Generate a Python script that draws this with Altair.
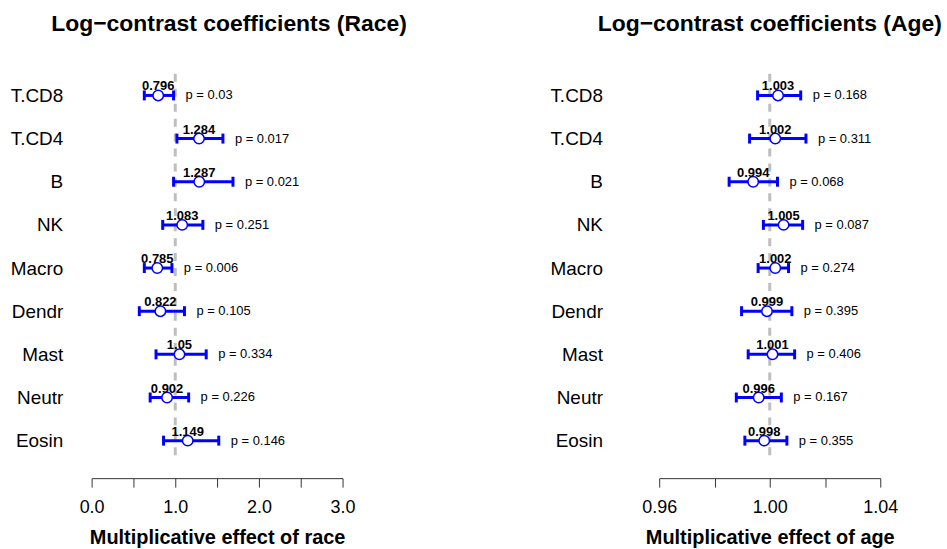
import altair as alt
import pandas as pd

cells = ["T.CD8", "T.CD4", "B", "NK", "Macro", "Dendr", "Mast", "Neutr", "Eosin"]

race_est = [0.796, 1.284, 1.287, 1.083, 0.785, 0.822, 1.05, 0.902, 1.149]
race_lo = [0.63, 1.02, 0.98, 0.85, 0.63, 0.57, 0.77, 0.70, 0.86]
race_hi = [0.98, 1.57, 1.69, 1.33, 0.96, 1.11, 1.37, 1.16, 1.52]
race_p = ["0.03", "0.017", "0.021", "0.251", "0.006", "0.105", "0.334", "0.226", "0.146"]

age_est = [1.003, 1.002, 0.994, 1.005, 1.002, 0.999, 1.001, 0.996, 0.998]
age_lo = [0.9956, 0.9927, 0.9853, 0.9977, 0.9958, 0.9898, 0.9922, 0.9879, 0.9910]
age_hi = [1.0112, 1.0131, 1.0028, 1.0119, 1.0068, 1.0080, 1.0090, 1.0042, 1.0062]
age_p = ["0.168", "0.311", "0.068", "0.087", "0.274", "0.395", "0.406", "0.167", "0.355"]

race_ticks = [0.0, 0.5, 1.0, 1.5, 2.0, 2.5, 3.0]
age_ticks = [0.96, 0.98, 1.00, 1.02, 1.04]

FONT = "Liberation Sans"
BLUE = "#0000FF"


def make_df(est, lo, hi, p, fmt):
    return pd.DataFrame({
        "cell": cells,
        "est": est,
        "lo": lo,
        "hi": hi,
        "estlab": [fmt(v) for v in est],
        "plab": ["p = " + s for s in p],
    })


def panel(df, domain, ticks, label_expr, fmt, title, xtitle, title_dx, ypad, width):
    base = alt.Chart(df)
    ysc = alt.Y("cell:N", sort=cells, scale=alt.Scale(type="point", padding=0.5),
                axis=alt.Axis(title=None, domain=False, ticks=False, labelPadding=ypad,
                              labelFontSize=19, labelColor="black", labelFont=FONT))
    xsc = alt.X("est:Q", scale=alt.Scale(domain=domain, nice=False, zero=False),
                axis=alt.Axis(values=ticks, format=fmt, labelExpr=label_expr,
                              title=xtitle, titleFontSize=20, titleFontWeight="bold",
                              titleFont=FONT, titleColor="black", titlePadding=12,
                              labelFontSize=18, labelFont=FONT, labelColor="black",
                              labelPadding=11, tickSize=9, tickColor="#333333",
                              domainColor="#333333", offset=16, grid=False,
                              labelFlush=False, labelOverlap=False))
    ref = alt.Chart(pd.DataFrame({"v": [1.0]})).mark_rule(
        color="#BEBEBE", strokeWidth=3, strokeDash=[8, 7]).encode(x="v:Q")
    bars = base.mark_rule(color=BLUE, strokeWidth=3).encode(
        x=alt.X("lo:Q"), x2="hi:Q", y=ysc)
    cap_lo = base.mark_tick(color=BLUE, thickness=3, size=10, opacity=1).encode(
        x="lo:Q", y=ysc)
    cap_hi = base.mark_tick(color=BLUE, thickness=3, size=10, opacity=1).encode(
        x="hi:Q", y=ysc)
    pts = base.mark_point(shape="circle", filled=False, fill="white", fillOpacity=1,
                          stroke=BLUE, strokeWidth=1.5, size=110, opacity=1).encode(
        x=xsc, y=ysc)
    vlab = base.mark_text(font=FONT, fontSize=13, fontWeight="bold", color="black",
                          baseline="alphabetic", align="center", dy=-5).encode(
        x="est:Q", y=ysc, text="estlab:N")
    plab = base.mark_text(font=FONT, fontSize=13, color="black", baseline="middle",
                          align="left", dx=12).encode(
        x="hi:Q", y=ysc, text="plab:N")
    return alt.layer(ref, bars, cap_lo, cap_hi, pts, vlab, plab).properties(
        width=width, height=390,
        title=alt.TitleParams(text=title, fontSize=23, fontWeight="bold", font=FONT,
                              color="black", anchor="middle", frame="group",
                              dx=title_dx, offset=37))


race_df = make_df(race_est, race_lo, race_hi, race_p, lambda v: f"{v:g}")
age_df = make_df(age_est, age_lo, age_hi, age_p, lambda v: f"{v:.3f}")

left = panel(race_df, [0, 3], race_ticks,
             "datum.value % 1 == 0 ? format(datum.value, '.1f') : ''", ".1f",
             "Log\u2212contrast coefficients (Race)", "Multiplicative effect of race",
             12, 29, 252)
right = panel(age_df, [0.96, 1.04], age_ticks,
              "abs(round(datum.value*100) % 4) < 0.5 ? format(datum.value, '.2f') : ''", ".2f",
              "Log\u2212contrast coefficients (Age)", "Multiplicative effect of age",
              0, 57, 222)

chart = alt.hconcat(left, right, spacing=318, bounds="flush").properties(
    padding={"left": 10, "top": 11, "right": 5, "bottom": 5},
    background="white",
).configure_view(stroke=None)

chart.save("out.html", embed_options={"renderer": "svg", "actions": False})
